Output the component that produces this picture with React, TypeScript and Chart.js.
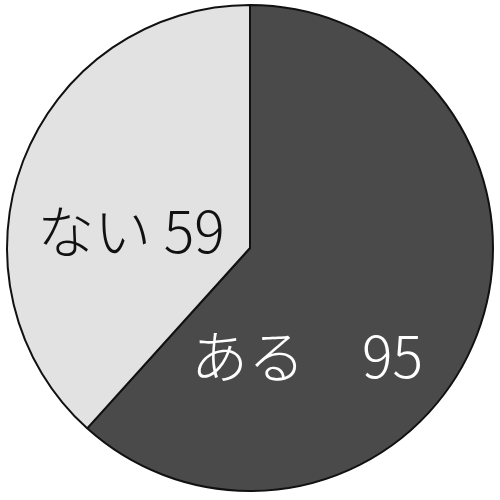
import React, { useEffect, useRef } from "react";
import { Chart, registerables } from "chart.js";

Chart.register(...registerables);

const categories = ["ある", "ない"];
const values = [95, 59];
const labelTexts = ["ある\u300095", "ない 59"];
const colors = ["#4a4a4a", "#e2e2e2"];
const textColors = ["#ffffff", "#111111"];
// label anchor offsets as fraction of radius from the pie centre
const labelOffsets = [
  [0.235, 0.445],
  [-0.49, -0.07],
];

const labelPlugin = {
  id: "sliceLabels",
  afterDatasetsDraw(chart: any) {
    const meta = chart.getDatasetMeta(0);
    const ctx = chart.ctx;
    ctx.save();
    ctx.textAlign = "center";
    ctx.textBaseline = "middle";
    ctx.font = '300 57px "Noto Sans CJK JP", "Noto Sans", sans-serif';
    meta.data.forEach((arc: any, i: number) => {
      const { x, y, outerRadius } = arc.getProps(["x", "y", "outerRadius"], true);
      ctx.fillStyle = textColors[i];
      ctx.fillText(
        labelTexts[i],
        x + labelOffsets[i][0] * outerRadius,
        y + labelOffsets[i][1] * outerRadius
      );
    });
    ctx.restore();
  },
};

export default function App() {
  const ref = useRef<HTMLCanvasElement>(null);
  useEffect(() => {
    const chart = new Chart(ref.current as HTMLCanvasElement, {
      type: "pie",
      data: {
        labels: categories,
        datasets: [
          {
            data: values,
            backgroundColor: colors,
            borderColor: "#111111",
            borderWidth: 2,
          },
        ],
      },
      options: {
        animation: false,
        responsive: false,
        layout: { padding: { top: 4, bottom: 8, left: 6, right: 6 } },
        plugins: {
          legend: { display: false },
          tooltip: { enabled: false },
        },
      },
      plugins: [labelPlugin],
    });
    return () => chart.destroy();
  }, []);
  return (
    <div style={{ position: "fixed", left: 0, top: 0, width: 500, height: 500, background: "#fff" }}>
      <canvas ref={ref} width={500} height={500} style={{ width: 500, height: 500 }} />
    </div>
  );
}
